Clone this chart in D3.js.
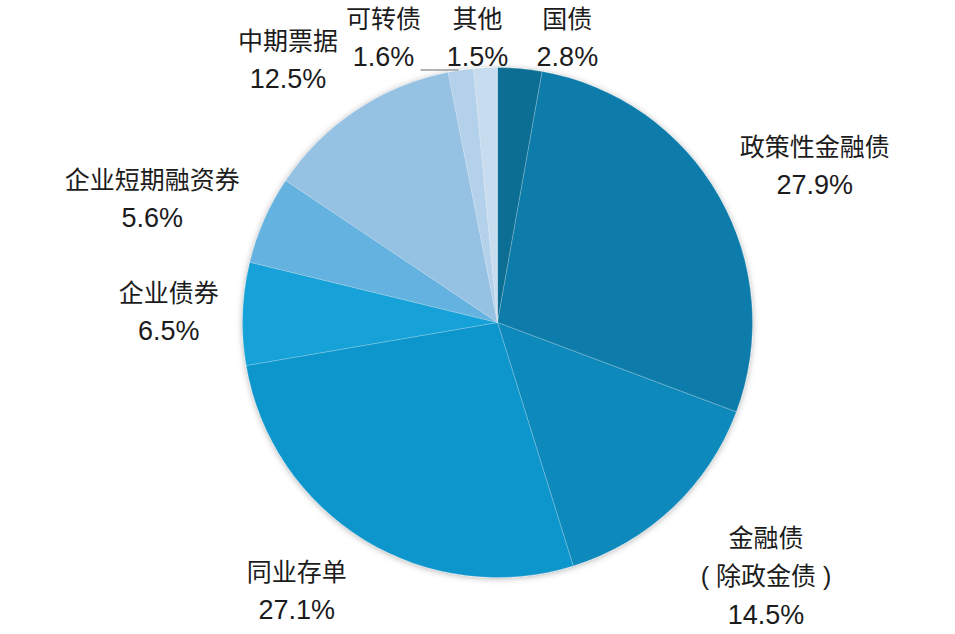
<!DOCTYPE html>
<html>
<head>
<meta charset="utf-8">
<script src="https://cdn.jsdelivr.net/npm/d3@7"></script>
<style>
  body { margin: 0; background: #fff; }
  svg { display: block; }
  text { fill: #1c1c1c; }
  .nm { font-family: "Liberation Sans", "Noto Sans CJK SC", sans-serif; font-size: 25px; }
  .pc { font-family: "Liberation Sans", sans-serif; font-size: 27px; }
</style>
</head>
<body>
<div id="chart"></div>
<script>
// bond types, clockwise from 12 o'clock
const categories = ['国债', '政策性金融债', '金融债\n( 除政金债 )', '同业存单', '企业债券', '企业短期融资券', '中期票据', '可转债', '其他']
const shares = [2.8, 27.9, 14.5, 27.1, 6.5, 5.6, 12.5, 1.6, 1.5]
const colors = ['#0d6e93', '#0c7cab', '#0d89bc', '#0f96cc', '#13a1d8', '#64b2df', '#95c1e3', '#b3d1eb', '#c8dcef']

const w = 955
const h = 634
const cx = 497.5
const cy = 322.5
const r = 255

// label layout: offset from the point at labelR on each slice's mid angle
const labelR = 340
const nudge = [[40, 54], [22, 11.5], [35, 6.5], [-23, -22], [11, 1], [-34, 13], [-21, 20.5], [-65, 51.5], [-4, 54.5]]
const lineH = 37.5

const svg = d3.select('#chart')
  .append('svg')
  .attr('width', w)
  .attr('height', h)

const defs = svg.append('defs')
const f = defs.append('filter').attr('id', 'shadow')
  .attr('x', '-10%').attr('y', '-10%').attr('width', '120%').attr('height', '120%')
f.append('feDropShadow')
  .attr('dx', 0).attr('dy', 1)
  .attr('stdDeviation', 3)
  .attr('flood-color', '#000')
  .attr('flood-opacity', 0.3)

const pie = d3.pie().sort(null).value(d => d)
const arcs = pie(shares)

const arc = d3.arc().innerRadius(0).outerRadius(r)
const labelArc = d3.arc().innerRadius(labelR).outerRadius(labelR)

const g = svg.append('g').attr('transform', `translate(${cx},${cy})`)

g.append('g')
  .attr('filter', 'url(#shadow)')
  .selectAll('path')
  .data(arcs)
  .enter()
  .append('path')
  .attr('d', arc)
  .attr('fill', (d, i) => colors[i])
  .attr('stroke', 'rgba(255,255,255,0.25)')
  .attr('stroke-width', 0.8)

// small leader line by the 可转债 slice
g.append('line')
  .attr('x1', -77).attr('x2', -39)
  .attr('y1', -r + 2.5).attr('y2', -r + 2.5)
  .attr('stroke', '#9a9a9a')
  .attr('stroke-width', 1.5)

const labels = g.selectAll('.lbl')
  .data(arcs)
  .enter()
  .append('text')
  .attr('class', 'lbl')
  .attr('text-anchor', 'middle')
  .attr('transform', (d, i) => {
    const p = labelArc.centroid(d)
    return `translate(${p[0] + nudge[i][0]},${p[1] + nudge[i][1]})`
  })

labels.each(function (d, i) {
  const names = categories[i].split('\n')
  const lines = names.concat([shares[i].toFixed(1) + '%'])
  const t = d3.select(this)
  const step = lines.length > 2 ? 38 : lineH
  const y0 = -(lines.length - 1) * step / 2
  lines.forEach((s, k) => {
    t.append('tspan')
      .attr('class', k < names.length ? 'nm' : 'pc')
      .attr('x', 0)
      .attr('y', y0 + k * step)
      .attr('dy', '0.36em')
      .text(s)
  })
})
</script>
</body>
</html>
